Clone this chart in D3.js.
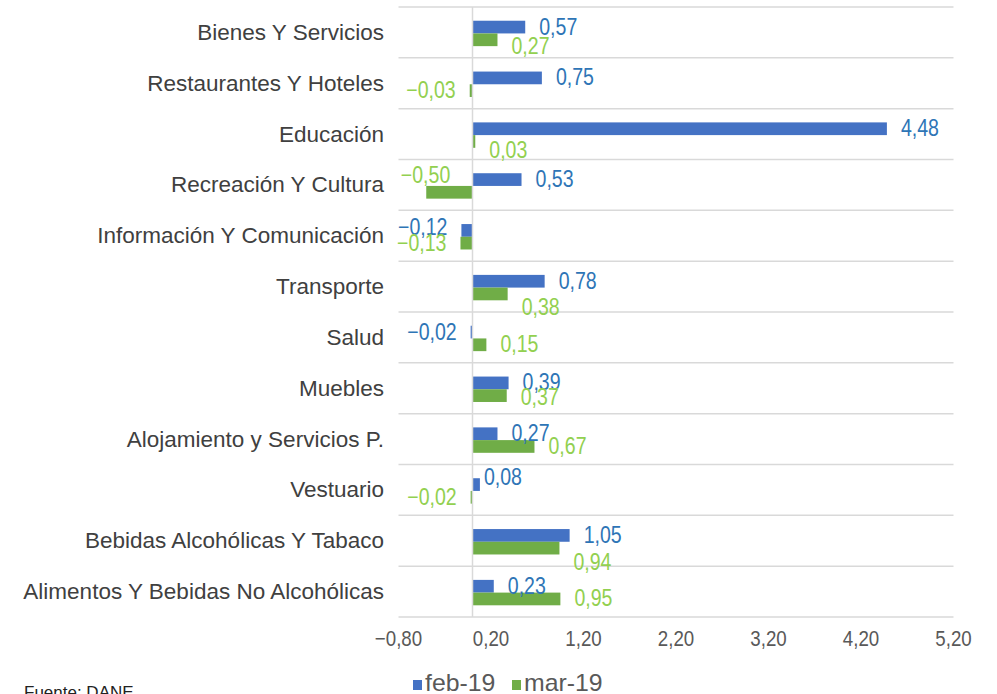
<!DOCTYPE html>
<html>
<head>
<meta charset="utf-8">
<script src="https://cdn.jsdelivr.net/npm/d3@7"></script>
<style>
  body { margin: 0; background: #fff; }
  svg { display: block; font-family: "Liberation Sans", Arial, sans-serif; }
</style>
</head>
<body>
<svg id="chart" width="997" height="694"></svg>
<script>
const categories = [
    "Bienes Y Servicios",
    "Restaurantes Y Hoteles",
    "Educación",
    "Recreación Y Cultura",
    "Información Y Comunicación",
    "Transporte",
    "Salud",
    "Muebles",
    "Alojamiento y Servicios P.",
    "Vestuario",
    "Bebidas Alcohólicas Y Tabaco",
    "Alimentos Y Bebidas No Alcohólicas"
];
const seriesNames = ["feb-19", "mar-19"];
const feb19 = [0.57, 0.75, 4.48, 0.53, -0.12, 0.78, -0.02, 0.39, 0.27, 0.08, 1.05, 0.23];
const mar19 = [0.27, -0.03, 0.03, -0.50, -0.13, 0.38, 0.15, 0.37, 0.67, -0.02, 0.94, 0.95];
const tickValues = [-0.8, 0.2, 1.2, 2.2, 3.2, 4.2, 5.2];
const source = "Fuente: DANE";

const barColors = ["#4472C4", "#70AD47"];
const labelColors = ["#2E75B6", "#92D050"];

// Excel "best fit" moved a few labels around, copy that by hand
const labelNudge = {
    "0-1": [0, 7], "2-1": [0, 9], "3-1": [38, -17], "4-0": [0, -3],
    "5-1": [0, 14], "9-0": [-10, -7], "10-1": [0, 14], "7-1": [0, 2]
};

const svg = d3.select("#chart");

const x = d3.scaleLinear().domain([-0.8, 5.2]).range([398.5, 953.5]);
const y = d3.scaleBand().domain(categories).range([7, 617]).padding(0);
const bw = y.bandwidth();
const ys = d3.scaleBand().domain(seriesNames).range([bw * 0.27, bw * 0.77]).padding(0);

const locale = d3.formatLocale({ decimal: ",", thousands: ".", grouping: [3], currency: ["$", ""], minus: "\u2212" });
const fmt = locale.format(".2f");

// narrow text helper, the original font is a condensed one
function narrowText(sel, px, py, sx) {
    return sel.attr("transform", `translate(${px},${py}) scale(${sx},1)`);
}

// horizontal gridlines between categories
const bounds = categories.map(c => y(c)).concat([y.range()[1]]);
svg.append("g")
    .selectAll("line")
    .data(bounds)
    .enter()
    .append("line")
    .attr("x1", x.range()[0])
    .attr("x2", x.range()[1])
    .attr("y1", d => d)
    .attr("y2", d => d)
    .attr("stroke", "#d9d9d9")
    .attr("stroke-width", 1.5);

// bars
const data = categories.map((c, i) => ({ cat: c, i, vals: [feb19[i], mar19[i]] }));

const groups = svg.append("g")
    .selectAll("g")
    .data(data)
    .enter()
    .append("g")
    .attr("transform", d => `translate(0,${y(d.cat)})`);

groups.selectAll("rect")
    .data(d => d.vals.map((v, s) => ({ v, s, i: d.i })))
    .enter()
    .append("rect")
    .attr("x", d => x(Math.min(0, d.v)))
    .attr("width", d => Math.max(1.5, Math.abs(x(d.v) - x(0))))
    .attr("y", d => ys(seriesNames[d.s]))
    .attr("height", ys.bandwidth())
    .attr("fill", d => barColors[d.s]);

// zero line
svg.append("line")
    .attr("x1", x(0)).attr("x2", x(0))
    .attr("y1", 7).attr("y2", 617)
    .attr("stroke", "#d9d9d9")
    .attr("stroke-width", 1.5);

// value labels
groups.selectAll("text.val")
    .data(d => d.vals.map((v, s) => ({ v, s, i: d.i })))
    .enter()
    .append("text")
    .attr("class", "val")
    .attr("font-size", 23)
    .attr("fill", d => labelColors[d.s])
    .attr("dominant-baseline", "central")
    .attr("text-anchor", d => d.v < 0 ? "end" : "start")
    .text(d => fmt(d.v))
    .each(function (d) {
        const n = labelNudge[d.i + "-" + d.s] || [0, 0];
        const px = x(d.v) + (d.v < 0 ? -14 : 14) + n[0];
        const py = ys(seriesNames[d.s]) + ys.bandwidth() / 2 + n[1];
        narrowText(d3.select(this), px, py, 0.85);
    });

// category labels
svg.append("g")
    .selectAll("text")
    .data(categories)
    .enter()
    .append("text")
    .attr("x", 384)
    .attr("y", d => y(d) + bw / 2)
    .attr("text-anchor", "end")
    .attr("dominant-baseline", "central")
    .attr("font-size", 22.5)
    .attr("fill", "#404040")
    .text(d => d);

// x axis tick labels
svg.append("g")
    .selectAll("text")
    .data(tickValues)
    .enter()
    .append("text")
    .attr("text-anchor", "middle")
    .attr("dominant-baseline", "central")
    .attr("font-size", 22)
    .attr("fill", "#595959")
    .text(d => fmt(d))
    .each(function (d) {
        narrowText(d3.select(this), x(d), 638, 0.85);
    });

// legend
const legend = svg.append("g");
const legendX = [413, 512];
seriesNames.forEach((name, s) => {
    legend.append("rect")
        .attr("x", legendX[s])
        .attr("y", 680)
        .attr("width", 9)
        .attr("height", 10)
        .attr("fill", barColors[s]);
    legend.append("text")
        .attr("font-size", 23)
        .attr("fill", "#595959")
        .text(name)
        .call(t => narrowText(t, legendX[s] + 12, 691, 1.08));
});

// source
svg.append("text")
    .attr("x", 24)
    .attr("y", 698)
    .attr("font-size", 17)
    .attr("fill", "#222")
    .text(source);
</script>
</body>
</html>
